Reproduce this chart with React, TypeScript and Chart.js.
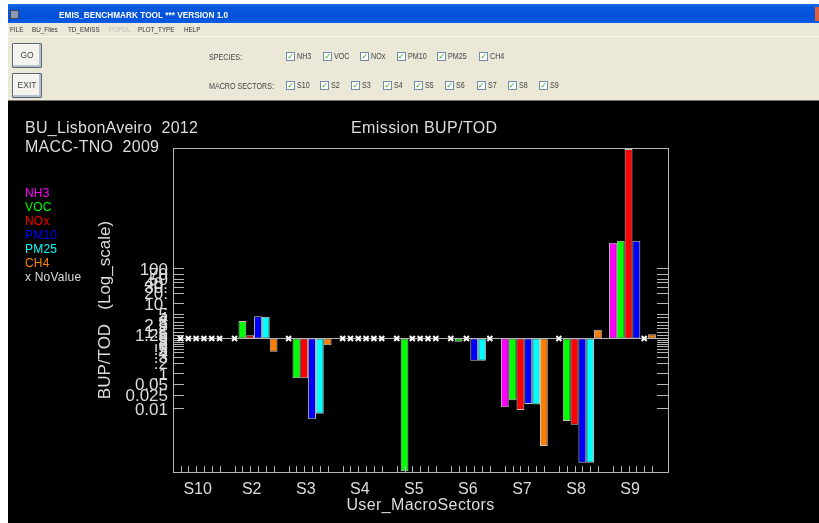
import React, { useEffect, useRef } from "react";
import { Chart, registerables } from "chart.js";

Chart.register(...registerables);

const sectors = ["S10", "S2", "S3", "S4", "S5", "S6", "S7", "S8", "S9"];
const NH3 = [null, null, null, null, null, null, 0.0108, null, 547];
const VOC = [null, 3.16, 0.073, null, 0.00016, 0.81, 0.0171, 0.0044, 621];
const NOx = [null, 1.23, 0.073, null, null, null, 0.0091, 0.0034, 260000];
const PM10 = [null, 4.3, 0.0049, null, null, 0.232, 0.0134, 0.00028, 621];
const PM25 = [null, 4.2, 0.0071, null, null, 0.232, 0.0129, 0.00028, null];
const CH4 = [null, 0.42, 0.64, null, null, null, 0.00085, 1.78, 1.32];

const speciesNames = ["NH3", "VOC", "NOx", "PM10", "PM25", "CH4"];
const speciesColors = ["#ff00ff", "#00ff00", "#ff0000", "#0000ff", "#00ffff", "#ff8000"];
const speciesValues = [NH3, VOC, NOx, PM10, PM25, CH4];

const yTickValues = [100, 70, 50, 40, 30, 20, 10, 5, 4, 3, 2.5, 2, 1.5, 1.25, 0.9, 0.8, 0.7, 0.6, 0.5, 0.4, 0.3, 0.2, 0.1, 0.05, 0.025, 0.01];
const yTickLabels = ["100", "70", "50", "40.", "30.", "20.", "10.", "5", "4", "3", "2.5", "2", "1.5", "1.25", ".9", ".8", ".7", ".6", ".5", ".4", ".3", ".2", ".1", "0.05", "0.025", "0.01"];

const menuItems: [string, number, boolean][] = [["FILE", 10, false], ["BU_Files", 32, false], ["TD_EMISS", 68, false], ["POPUL", 109, true], ["PLOT_TYPE", 138, false], ["HELP", 184, false]];
const speciesChecks: [string, number][] = [["NH3", 286], ["VOC", 323], ["NOx", 360], ["PM10", 396.5], ["PM25", 437], ["CH4", 479]];
const sectorChecks: [string, number][] = [["S10", 286], ["S2", 320], ["S3", 351], ["S4", 383], ["S5", 414], ["S6", 445], ["S7", 476.5], ["S8", 507.5], ["S9", 539]];

const TXT = "#dcdcdc";
const LINE = "#b4b4b4";
const FONT = "'Liberation Sans', sans-serif";
const UI = "'Liberation Sans', sans-serif";

const uiText: React.CSSProperties = {
  position: "absolute",
  fontSize: 8.5,
  lineHeight: "10px",
  color: "#444",
  fontFamily: UI,
  whiteSpace: "nowrap",
  transform: "scaleX(0.84)",
  transformOrigin: "left center",
  filter: "blur(0.3px)",
};

const idlPlugin = {
  id: "idlDecor",
  afterDatasetsDraw(chart: any) {
    const { ctx, chartArea: a, scales } = chart;
    const y = scales.y;
    const left = a.left;
    const right = a.right + 8.5;
    const top = a.top;
    const bottom = a.bottom;
    ctx.save();
    ctx.strokeStyle = LINE;
    ctx.lineWidth = 1;
    ctx.strokeRect(left + 0.5, top + 0.5, right - left, bottom - top);
    ctx.beginPath();
    y.ticks.forEach((t: any) => {
      const p = Math.round(y.getPixelForValue(t.value)) + 0.5;
      ctx.moveTo(left, p);
      ctx.lineTo(left + 11, p);
      ctx.moveTo(right - 11, p);
      ctx.lineTo(right, p);
    });
    const base = Math.round(y.getPixelForValue(1)) + 0.5;
    ctx.moveTo(left, base);
    ctx.lineTo(right, base);
    chart.data.datasets.forEach((_: any, di: number) => {
      chart.getDatasetMeta(di).data.forEach((el: any) => {
        const px = Math.round(el.x) + 0.5;
        ctx.moveTo(px, bottom);
        ctx.lineTo(px, bottom - 6);
      });
    });
    ctx.stroke();
    // NoValue crosses
    ctx.strokeStyle = "#ffffff";
    ctx.lineWidth = 2;
    ctx.beginPath();
    chart.data.datasets.forEach((ds: any, di: number) => {
      chart.getDatasetMeta(di).data.forEach((el: any, i: number) => {
        if (ds.data[i] === null) {
          ctx.moveTo(el.x - 2.5, base - 2.5);
          ctx.lineTo(el.x + 2.5, base + 2.5);
          ctx.moveTo(el.x - 2.5, base + 2.5);
          ctx.lineTo(el.x + 2.5, base - 2.5);
        }
      });
    });
    ctx.stroke();
    // Titles and legend
    const ox = -8;
    const oy = -101;
    ctx.textBaseline = "middle";
    ctx.textAlign = "left";
    ctx.fillStyle = TXT;
    ctx.font = `16px ${FONT}`;
    ctx.letterSpacing = "0.25px";
    ctx.fillText("BU_LisbonAveiro  2012", 25 + ox, 129 + oy);
    ctx.fillText("MACC-TNO  2009", 25 + ox, 148 + oy);
    ctx.letterSpacing = "0.4px";
    ctx.fillText("Emission BUP/TOD", 351 + ox, 129 + oy);
    ctx.textAlign = "center";
    ctx.fillText("User_MacroSectors", 420.5 + ox, 506 + oy);
    ctx.textAlign = "left";
    ctx.font = `12px ${FONT}`;
    ctx.letterSpacing = "0.2px";
    speciesNames.forEach((n, i) => {
      ctx.fillStyle = speciesColors[i];
      ctx.fillText(n, 25 + ox, 193.5 + 14 * i + oy);
    });
    ctx.fillStyle = TXT;
    ctx.fillText("x NoValue", 25 + ox, 278 + oy);
    ctx.restore();
  },
};

function CheckRow({ items, top }: { items: [string, number][]; top: number }) {
  return (
    <>
      {items.map(([label, x]) => (
        <React.Fragment key={label}>
          <div style={{ position: "absolute", left: x, top, width: 7, height: 7, border: "1px solid #6f8da9", background: "#fff", color: "#21a121", fontSize: 8, lineHeight: "7px", textAlign: "center", fontFamily: "'DejaVu Sans'", fontWeight: 700 }}>✓</div>
          <div style={{ ...uiText, left: x + 11, top: top - 1 }}>{label}</div>
        </React.Fragment>
      ))}
    </>
  );
}

function Btn({ label, top }: { label: string; top: number }) {
  return (
    <div style={{ position: "absolute", left: 12, top, width: 28, height: 23, border: "1px solid #5a6570", borderRadius: 1, background: "#f4f3ee", boxShadow: "inset -2px -2px 0 #b5c2cf, inset 1px 1px 0 #fff", color: "#444", fontSize: 8.5, lineHeight: "23px", textAlign: "center", fontFamily: UI, filter: "blur(0.3px)" }}>{label}</div>
  );
}

export default function App() {
  const ref = useRef<HTMLCanvasElement>(null);
  useEffect(() => {
    const chart = new Chart(ref.current!, {
      type: "bar",
      data: {
        labels: sectors,
        datasets: speciesNames.map((n, i) => ({
          label: n,
          data: speciesValues[i],
          base: 1,
          backgroundColor: speciesColors[i],
          borderColor: "#c4c4c4",
          borderWidth: 1,
          borderSkipped: false,
          categoryPercentage: 0.867,
          barPercentage: 1,
        })),
      } as any,
      options: {
        responsive: false,
        animation: false,
        devicePixelRatio: 1,
        layout: { padding: { left: 87, right: 159.5, top: 47, bottom: 0 } },
        plugins: { legend: { display: false }, title: { display: false }, tooltip: { enabled: false } },
        scales: {
          x: {
            type: "category",
            grid: { display: false, drawTicks: false },
            border: { display: false },
            ticks: { color: TXT, font: { family: "Liberation Sans", size: 16 }, padding: 8, labelOffset: -2.4, maxRotation: 0, autoSkip: false },
            afterFit(s: any) { s.height = 51; },
          },
          y: {
            type: "logarithmic",
            bounds: "data",
            min: 0.000153,
            max: 277000,
            grid: { display: false, drawTicks: false },
            border: { display: false },
            title: { display: true, text: "BUP/TOD   (Log_scale)", color: TXT, font: { family: "Liberation Sans", size: 17 }, padding: 0 },
            ticks: {
              color: TXT,
              font: { family: "Liberation Sans", size: 17 },
              padding: 5,
              labelOffset: 1.5,
              autoSkip: false,
              callback: (_v: any, i: number) => yTickLabels[i],
            },
            afterBuildTicks(s: any) { s.ticks = yTickValues.map((value) => ({ value })); },
            afterFit(s: any) { s.width = 78; },
          },
        },
      } as any,
      plugins: [idlPlugin],
    });
    return () => chart.destroy();
  }, []);

  return (
    <div style={{ position: "absolute", left: 0, top: 0, width: 819, height: 523, overflow: "hidden", background: "#fff" }}>
      <div style={{ position: "absolute", left: 8, top: 4, width: 811, height: 19, background: "linear-gradient(#1a6cf0 0%, #0a58dc 20%, #0050d8 70%, #0a5ee8 100%)" }} />
      <div style={{ position: "absolute", left: 10, top: 10, width: 7, height: 7, background: "#8a9ab0", border: "1px solid #445" }} />
      <div style={{ position: "absolute", left: 59, top: 9, fontSize: 9.5, lineHeight: "12px", color: "#fff", fontFamily: UI, fontWeight: 700, whiteSpace: "nowrap", transform: "scaleX(0.87)", transformOrigin: "left center", filter: "blur(0.3px)" }}>EMIS_BENCHMARK TOOL *** VERSION 1.0</div>
      <div style={{ position: "absolute", left: 815, top: 7, width: 4, height: 14, background: "#e0603c" }} />
      <div style={{ position: "absolute", left: 8, top: 23, width: 811, height: 78, background: "#ebe8d8", boxSizing: "border-box", borderBottom: "1px solid #77756a" }} />
      <div style={{ position: "absolute", left: 8, top: 36, width: 811, height: 1, background: "#f8f7f0" }} />
      {menuItems.map(([label, x, off]) => (
        <div key={label} style={{ ...uiText, left: x, top: 25, fontSize: 8, color: off ? "#bdbbb0" : "#333", transform: "scaleX(0.79)" }}>{label}</div>
      ))}
      <Btn label="GO" top={43} />
      <Btn label="EXIT" top={73} />
      <div style={{ ...uiText, left: 209, top: 52 }}>SPECIES:</div>
      <div style={{ ...uiText, left: 209, top: 81 }}>MACRO SECTORS:</div>
      <CheckRow items={speciesChecks} top={52} />
      <CheckRow items={sectorChecks} top={81} />
      <div style={{ position: "absolute", left: 8, top: 101, width: 811, height: 422, background: "#000" }}>
        <canvas ref={ref} width={811} height={422} style={{ display: "block", width: 811, height: 422 }} />
      </div>
    </div>
  );
}
